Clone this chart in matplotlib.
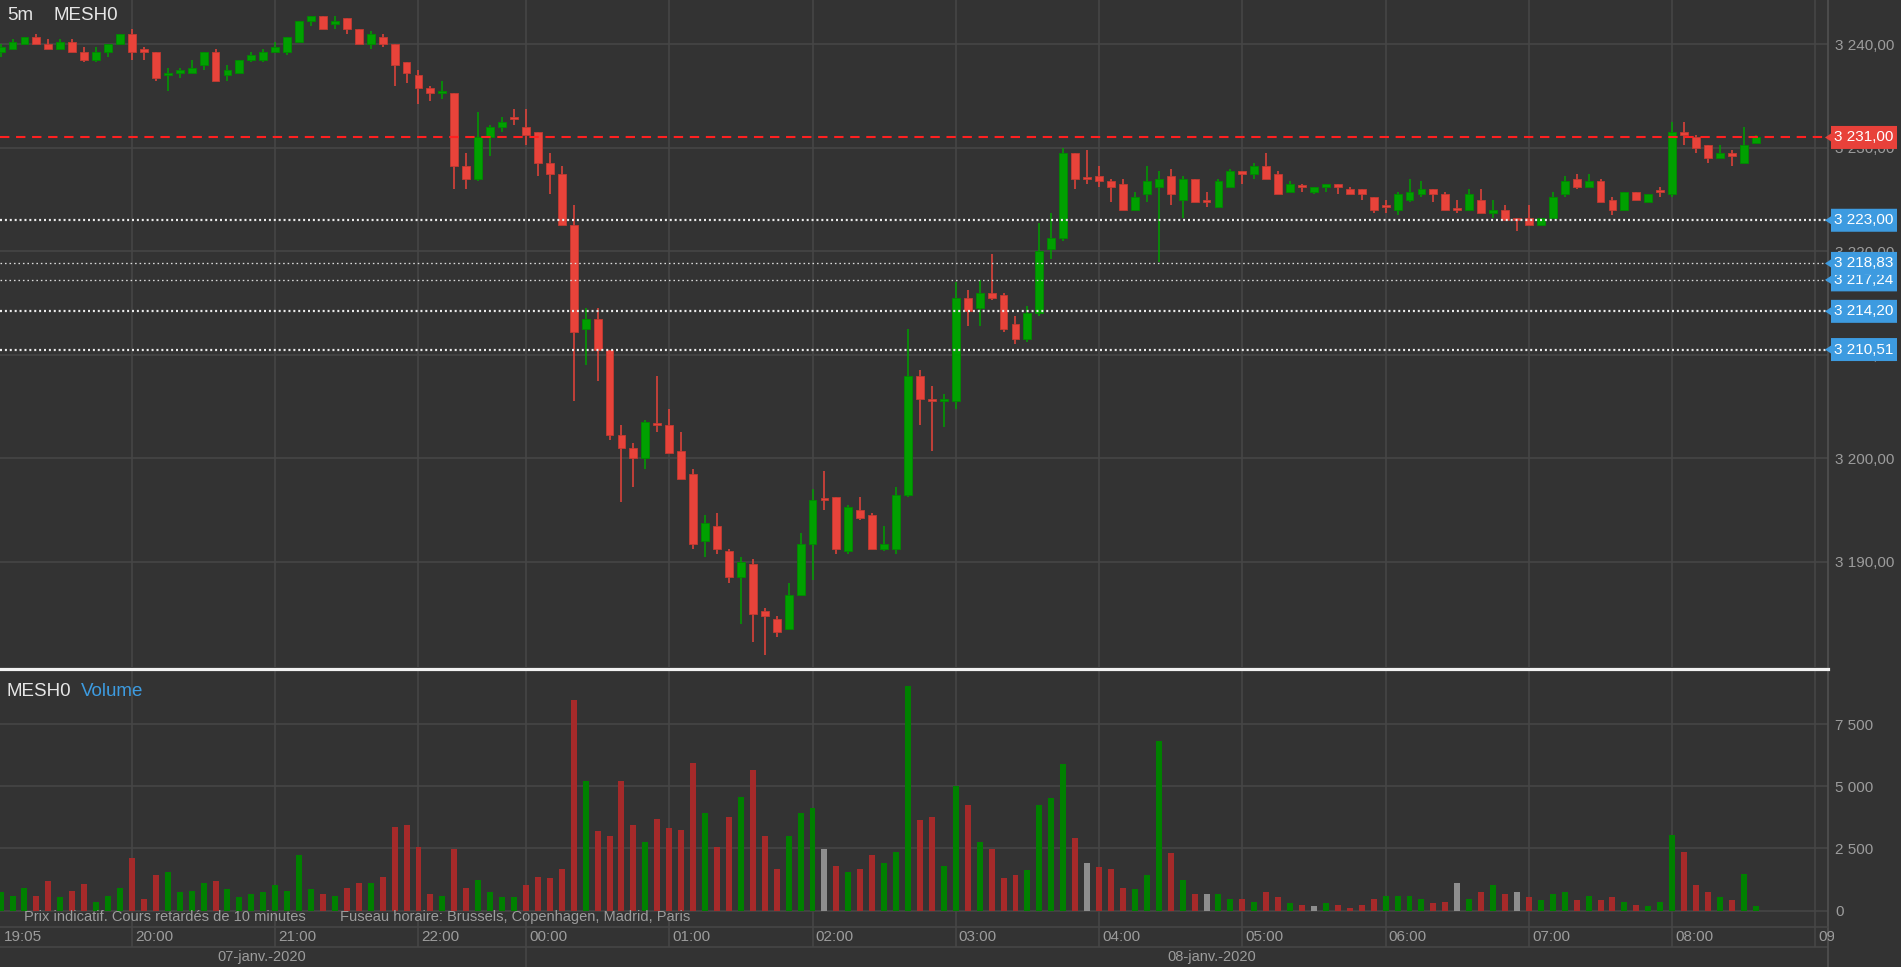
import numpy as np
import pandas as pd
import matplotlib
matplotlib.use('Agg')
import matplotlib.pyplot as plt
from matplotlib import transforms
from matplotlib.patches import Polygon
from matplotlib.ticker import FuncFormatter

plt.rcParams['font.family'] = ['Liberation Sans', 'DejaVu Sans']

# ---------------- data ----------------
opens = [3239.25, 3239.5, 3240.0, 3240.75, 3240.0, 3239.5, 3240.25, 3239.25, 3238.5, 3239.25,
         3240.0, 3241.0, 3239.5, 3239.25, 3237.0, 3237.25, 3237.25, 3238.0, 3239.25, 3237.0,
         3237.25, 3238.5, 3238.5, 3239.25, 3239.25, 3240.25, 3242.25, 3242.75, 3242.0, 3242.5,
         3241.5, 3240.0, 3240.75, 3240.0, 3238.25, 3237.0, 3235.75, 3235.25, 3235.25, 3228.25,
         3227.0, 3231.0, 3232.0, 3232.75, 3232.0, 3231.5, 3228.5, 3227.5, 3222.5, 3212.5,
         3213.5, 3210.5, 3202.25, 3201.0, 3200.0, 3203.25, 3203.25, 3200.75, 3198.5, 3192.0,
         3193.5, 3191.0, 3188.5, 3189.75, 3185.25, 3184.5, 3183.5, 3186.75, 3191.75, 3196.0,
         3196.25, 3191.0, 3195.0, 3194.5, 3191.25, 3191.25, 3196.5, 3208.0, 3205.75, 3205.5,
         3205.5, 3215.5, 3214.5, 3216.0, 3215.75, 3213.0, 3211.5, 3214.0, 3220.25, 3221.25,
         3229.5, 3227.0, 3227.25, 3226.75, 3226.5, 3224.0, 3225.5, 3226.25, 3227.25, 3225.0,
         3227.0, 3224.75, 3224.25, 3226.25, 3227.75, 3227.5, 3228.25, 3227.5, 3225.75, 3226.25,
         3225.75, 3226.25, 3226.5, 3226.0, 3226.0, 3225.25, 3224.25, 3224.0, 3225.0, 3225.5,
         3226.0, 3225.5, 3224.0, 3224.0, 3225.0, 3223.75, 3224.0, 3223.0, 3223.25, 3222.5,
         3223.25, 3225.5, 3227.0, 3226.25, 3226.75, 3225.0, 3224.0, 3225.75, 3224.75, 3225.75,
         3225.5, 3231.5, 3231.0, 3230.25, 3229.0, 3229.5, 3228.5, 3230.5]
highs = [3240.0, 3240.5, 3240.75, 3241.0, 3240.5, 3240.5, 3240.5, 3239.75, 3239.75, 3240.0,
         3241.0, 3241.5, 3239.75, 3239.25, 3237.75, 3237.75, 3238.5, 3239.25, 3239.5, 3238.0,
         3238.5, 3239.25, 3239.5, 3240.25, 3240.75, 3242.25, 3242.75, 3242.75, 3242.75, 3242.5,
         3241.5, 3241.25, 3241.0, 3240.0, 3238.25, 3237.5, 3236.0, 3236.5, 3235.25, 3229.5,
         3233.5, 3232.25, 3233.0, 3233.75, 3233.75, 3231.5, 3229.5, 3228.25, 3224.5, 3214.5,
         3214.5, 3210.5, 3203.25, 3201.5, 3203.75, 3208.0, 3204.75, 3202.5, 3199.0, 3194.5,
         3194.75, 3191.25, 3190.5, 3190.25, 3185.5, 3184.75, 3188.0, 3192.75, 3197.0, 3198.75,
         3196.25, 3195.5, 3196.25, 3194.75, 3193.5, 3197.25, 3212.5, 3208.5, 3207.0, 3206.25,
         3217.0, 3216.25, 3217.25, 3219.75, 3216.0, 3213.75, 3214.75, 3222.75, 3223.75, 3230.0,
         3229.5, 3229.75, 3228.25, 3227.0, 3227.0, 3225.75, 3228.25, 3227.75, 3228.0, 3227.25,
         3227.0, 3225.75, 3227.0, 3228.0, 3227.75, 3228.5, 3229.5, 3227.75, 3226.75, 3226.5,
         3226.25, 3226.5, 3226.5, 3226.25, 3226.0, 3225.25, 3225.0, 3225.75, 3227.0, 3226.75,
         3226.0, 3225.75, 3225.0, 3226.0, 3226.0, 3225.0, 3224.5, 3223.25, 3224.5, 3223.25,
         3225.75, 3227.25, 3227.5, 3227.5, 3227.0, 3225.25, 3225.75, 3225.75, 3225.5, 3226.25,
         3232.5, 3232.5, 3231.25, 3230.25, 3230.25, 3229.75, 3232.0, 3231.25]
lows = [3238.75, 3239.5, 3240.0, 3240.0, 3239.5, 3239.5, 3239.25, 3238.25, 3238.25, 3238.75,
        3240.0, 3238.5, 3238.5, 3236.5, 3235.5, 3236.75, 3237.25, 3237.5, 3236.5, 3236.5,
        3237.25, 3238.25, 3238.25, 3239.25, 3239.0, 3240.25, 3241.75, 3241.5, 3241.5, 3241.0,
        3240.0, 3239.5, 3239.75, 3236.0, 3236.25, 3234.25, 3234.5, 3234.75, 3226.0, 3226.0,
        3226.75, 3229.25, 3231.5, 3232.25, 3230.25, 3227.25, 3225.5, 3222.5, 3205.5, 3209.0,
        3207.5, 3201.75, 3195.75, 3197.25, 3199.0, 3202.5, 3200.5, 3198.0, 3191.25, 3190.5,
        3190.75, 3188.0, 3184.0, 3182.25, 3181.0, 3182.75, 3183.5, 3186.75, 3188.25, 3195.0,
        3190.75, 3190.75, 3194.0, 3191.25, 3191.0, 3190.75, 3196.25, 3203.25, 3200.75, 3203.0,
        3204.75, 3212.75, 3212.75, 3215.25, 3212.25, 3211.0, 3211.25, 3213.75, 3219.25, 3221.0,
        3226.0, 3226.5, 3226.25, 3224.75, 3224.0, 3224.0, 3224.75, 3219.0, 3224.5, 3223.25,
        3224.75, 3224.25, 3224.25, 3226.25, 3226.5, 3227.0, 3227.0, 3225.5, 3225.75, 3225.75,
        3225.5, 3225.75, 3225.5, 3225.5, 3225.0, 3223.75, 3223.75, 3223.5, 3224.75, 3225.25,
        3224.75, 3224.0, 3223.75, 3224.0, 3223.75, 3223.25, 3223.0, 3222.0, 3222.5, 3222.5,
        3223.25, 3225.25, 3226.0, 3226.25, 3224.75, 3223.5, 3224.0, 3225.0, 3224.75, 3225.25,
        3225.25, 3230.25, 3229.5, 3228.5, 3229.0, 3228.25, 3228.5, 3230.5]
closes = [3239.75, 3240.25, 3240.75, 3240.0, 3239.5, 3240.25, 3239.25, 3238.5, 3239.25, 3240.0,
          3241.0, 3239.25, 3239.25, 3236.75, 3237.25, 3237.5, 3237.75, 3239.25, 3236.5, 3237.5,
          3238.5, 3239.0, 3239.25, 3239.75, 3240.75, 3242.25, 3242.75, 3241.5, 3242.25, 3241.5,
          3240.0, 3241.0, 3240.0, 3238.0, 3237.25, 3235.75, 3235.25, 3235.5, 3228.25, 3227.0,
          3231.0, 3232.0, 3232.5, 3232.75, 3231.25, 3228.5, 3227.5, 3222.5, 3212.25, 3213.5,
          3210.5, 3202.25, 3201.0, 3200.0, 3203.5, 3203.25, 3200.5, 3198.0, 3191.75, 3193.75,
          3191.25, 3188.5, 3190.0, 3185.0, 3184.75, 3183.25, 3186.75, 3191.75, 3196.0, 3196.0,
          3191.25, 3195.25, 3194.25, 3191.25, 3191.75, 3196.5, 3208.0, 3205.75, 3205.5, 3205.75,
          3215.5, 3214.25, 3216.0, 3215.5, 3212.5, 3211.5, 3214.0, 3220.0, 3221.25, 3229.5,
          3227.0, 3227.0, 3226.75, 3226.25, 3224.0, 3225.25, 3226.75, 3227.0, 3225.5, 3227.0,
          3224.75, 3224.75, 3226.75, 3227.75, 3227.5, 3228.25, 3227.0, 3225.5, 3226.5, 3226.25,
          3226.25, 3226.5, 3226.25, 3225.5, 3225.5, 3224.0, 3224.25, 3225.5, 3225.75, 3226.0,
          3225.5, 3224.0, 3224.0, 3225.5, 3223.75, 3224.0, 3223.0, 3223.0, 3222.5, 3223.25,
          3225.25, 3226.75, 3226.25, 3226.75, 3224.75, 3224.0, 3225.75, 3225.0, 3225.5, 3225.75,
          3231.5, 3231.25, 3230.0, 3229.0, 3229.5, 3229.25, 3230.25, 3231.0]
volumes = [736, 603, 910, 603, 1192, 536, 790, 1058, 348, 603,
           910, 2116, 482, 1433, 1553, 736, 790, 1111, 1178, 857,
           536, 670, 736, 1044, 790, 2236, 857, 670, 603, 924,
           1111, 1111, 1366, 3374, 3441, 2557, 670, 603, 2491, 924,
           1232, 736, 536, 536, 1044, 1366, 1299, 1674, 8463, 5195,
           3187, 2999, 5195, 3441, 2745, 3682, 3307, 3240, 5945, 3937,
           2557, 3749, 4566, 5637, 2999, 1674, 2999, 3937, 4124, 2491,
           1808, 1553, 1674, 2236, 1928, 2370, 9025, 3629, 3749, 1808,
           5008, 4258, 2745, 2491, 1299, 1433, 1620, 4258, 4512, 5892,
           2932, 1928, 1741, 1674, 924, 857, 1433, 6829, 2303, 1232,
           670, 670, 670, 482, 482, 348, 736, 536, 295, 228,
           174, 295, 228, 107, 228, 482, 603, 603, 603, 482,
           295, 348, 1111, 482, 736, 1044, 670, 736, 536, 415,
           670, 736, 415, 603, 415, 536, 348, 228, 174, 348,
           3053, 2370, 1044, 736, 536, 415, 1486, 174]
# volume bar direction: u = up, d = down, n = unchanged
vol_dir = list("uuuddudduu" "uddduuuudu" "uuuuuuudud" "dudddddudd"
               "uuuudddddu" "dddduddddu" "dduddduuun" "dudduuuddu" "ududdduuuu"
               "dnddduuudu" "dnuududdud" "nudddduuuu" "ddnududndu" "uududduduu"
               "uddduduu")

last_price = 3231.00
level_values = [3223.00, 3217.24, 3218.83, 3214.20, 3210.51]
level_thick = [True, False, False, True, True]
price_ticks = [3190, 3200, 3210, 3220, 3230, 3240]
vol_ticks = [0, 2500, 5000, 7500]
day_labels = ['07-janv.-2020', '08-janv.-2020']

times = (pd.date_range('2020-01-07 19:05', '2020-01-07 22:10', freq='5min')
         .append(pd.date_range('2020-01-07 22:30', '2020-01-07 22:55', freq='5min'))
         .append(pd.date_range('2020-01-08 00:00', '2020-01-08 09:05', freq='5min')))

n = len(closes)
assert len(opens) == n == len(highs) == len(lows) == len(volumes) == len(vol_dir)

# ---------------- style ----------------
BG = '#333333'
GRID = '#474747'
UPC, DNC = '#00a000', '#e8433a'
UPE, DNE = '#008a00', '#c23a32'
VCOL = {'u': '#008000', 'd': '#a52a2a', 'n': '#8e8e8e'}
TXT = '#9c9c9c'
BLUE = '#3d9be0'

W, H = 1901, 967
fig = plt.figure(figsize=(W / 100, H / 100), dpi=100, facecolor=BG)


def fa(left, top, right, bottom):
    return [left / W, 1 - bottom / H, (right - left) / W, (bottom - top) / H]


ax = fig.add_axes(fa(0, 0, 1828, 667))
axv = fig.add_axes(fa(0, 669, 1828, 927))
axt = fig.add_axes(fa(0, 927, 1828, 967))

x = np.arange(n)
hour_idx = [i for i, t in enumerate(times) if t.minute == 0]
XL = (-0.05, 153.05)

for a in (ax, axv, axt):
    a.set_facecolor(BG)
    for s in ('left', 'top', 'bottom'):
        a.spines[s].set_visible(False)
    a.spines['right'].set_color('#505050')
    a.spines['right'].set_linewidth(1.2)
    a.set_xlim(*XL)

# ---------------- price panel ----------------
o = np.array(opens); c = np.array(closes); h = np.array(highs); l = np.array(lows)
up = c > o
col = np.where(up, UPC, DNC)
ecol = np.where(up, UPE, DNE)
ax.vlines(x, l, h, colors=col, lw=1.1, zorder=3)
ax.bar(x, np.maximum(np.abs(c - o), 0.18), bottom=np.minimum(o, c), width=0.66,
       color=col, edgecolor=ecol, linewidth=0.6, zorder=4)

ax.set_yticks(price_ticks)
ax.set_xticks(hour_idx)
ax.grid(True, color=GRID, lw=1.1)
ax.set_axisbelow(True)
ax.yaxis.tick_right()
ax.tick_params(axis='x', length=0, labelbottom=False)
ax.tick_params(axis='y', length=0, pad=5, labelcolor=TXT, labelsize=11)
ax.yaxis.set_major_formatter(FuncFormatter(
    lambda v, p: f"{v:,.2f}".replace(',', ' ').replace('.', ',')))

# support / resistance levels
for v, thick in zip(level_values, level_thick):
    if thick:
        ax.axhline(v, color='#ececec', lw=1.6, dashes=(0.9, 1.3), zorder=6)
    else:
        ax.axhline(v, color='#dcdcdc', lw=0.95, dashes=(1.2, 2.2), zorder=6)
ax.axhline(last_price, color='#ff2020', lw=1.5, dashes=(4.5, 3.2), zorder=6)

ax.set_ylim(3179.84, 3244.28)
ax.set_xlim(*XL)


def fmt(v):
    return f"{v:,.2f}".replace(',', ' ').replace('.', ',')


def tag(a, y, text, face, zo):
    trans = transforms.blended_transform_factory(a.transAxes, a.transData)
    y0, y1 = a.get_ylim()
    hpx = a.get_position().height * H
    upp = (y1 - y0) / hpx
    hh, ah = 11.5 * upp, 4.0 * upp
    xt, xl, xr = 1825 / 1828, 1831 / 1828, 1897 / 1828
    poly = Polygon([(xr, y + hh), (xl, y + hh), (xl, y + ah), (xt, y), (xl, y - ah),
                    (xl, y - hh), (xr, y - hh)], closed=True, transform=trans,
                   facecolor=face, edgecolor='none', clip_on=False, zorder=zo)
    a.add_patch(poly)
    a.text(1834 / 1828, y, text, transform=trans, color='white', fontsize=11,
           va='center', ha='left', clip_on=False, zorder=zo + 0.1)


tag(ax, last_price, fmt(last_price), '#e8413a', 10)
for k, v in enumerate(level_values):
    tag(ax, v, fmt(v), BLUE, 11 + k)
ax.set_ylim(3179.84, 3244.28)
ax.set_xlim(*XL)

fig.text(7 / W, 1 - 16 / H, '5m', color='#e6e6e6', fontsize=13.5, va='center', ha='left')
fig.text(53 / W, 1 - 16 / H, 'MESH0', color='#e6e6e6', fontsize=13.5, va='center', ha='left')

# ---------------- volume panel ----------------
vcols = [VCOL[d] for d in vol_dir]
axv.bar(x, volumes, width=0.5, color=vcols, zorder=3)
axv.set_yticks(vol_ticks)
axv.set_xticks(hour_idx)
axv.grid(True, color=GRID, lw=1.1)
axv.set_axisbelow(True)
axv.yaxis.tick_right()
axv.tick_params(axis='x', length=0, labelbottom=False)
axv.tick_params(axis='y', length=0, pad=5, labelcolor=TXT, labelsize=11)
axv.yaxis.set_major_formatter(FuncFormatter(lambda v, p: f"{int(v):,}".replace(',', ' ')))
axv.spines['top'].set_visible(True)
axv.spines['top'].set_color('#f2f2f2')
axv.spines['top'].set_linewidth(2.3)
axv.set_ylim(-655, 9714)
axv.set_xlim(*XL)

fig.text(6 / W, 1 - 692 / H, 'MESH0', color='#e6e6e6', fontsize=13.5, va='center', ha='left')
fig.text(81 / W, 1 - 692 / H, 'Volume', color=BLUE, fontsize=13.5, va='center', ha='left')
fig.text(24 / W, 1 - 917 / H, 'Prix indicatif. Cours retardés de 10 minutes',
         color=TXT, fontsize=10.5, va='center', ha='left')
fig.text(340 / W, 1 - 917 / H, 'Fuseau horaire: Brussels, Copenhagen, Madrid, Paris',
         color=TXT, fontsize=10.5, va='center', ha='left')

# ---------------- time axis ----------------
axt.set_ylim(0, 1)
axt.set_xticks([]); axt.set_yticks([])
axt.spines['top'].set_visible(True)
axt.spines['top'].set_color(GRID)
axt.spines['top'].set_linewidth(1.1)
axt.axhline(0.5, color=GRID, lw=1.1)
midnight = [i for i in hour_idx if times[i].hour == 0]
axt.vlines([i for i in hour_idx if i not in midnight], 0.5, 1, color=GRID, lw=1.1)
axt.vlines(midnight, 0, 1, color=GRID, lw=1.1)
tt = transforms.offset_copy(transforms.blended_transform_factory(axt.transData, axt.transAxes),
                            fig=fig, x=3, y=0, units='dots')
clipbox = transforms.TransformedBbox(transforms.Bbox([[0, 0], [1834 / 1828, 1]]), axt.transAxes)
labels_at = [0] + hour_idx
label_txt = [times[0].strftime('%H:%M')] + [times[i].strftime('%H:%M') for i in hour_idx]
for i, s in zip(labels_at, label_txt):
    t = axt.text(i, 0.74, s, transform=tt, color=TXT, fontsize=11,
                 va='center', ha='left', clip_on=True)
    t.set_clip_box(clipbox)
axt.set_xlim(*XL)

fig.text(262 / W, 1 - 957 / H, day_labels[0], color=TXT, fontsize=10.5, va='center', ha='center')
fig.text(1212 / W, 1 - 957 / H, day_labels[1], color=TXT, fontsize=10.5, va='center', ha='center')

fig.savefig('out.png', dpi=100, facecolor=BG)
